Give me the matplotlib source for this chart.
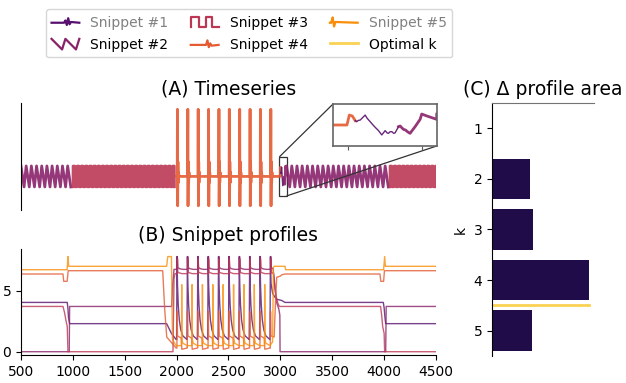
"""Snippet discovery figure: timeseries, snippet profiles and profile-area gain."""

import numpy as np
import matplotlib
matplotlib.use("Agg")
from matplotlib import pyplot as plt
from matplotlib.lines import Line2D
from matplotlib.legend_handler import HandlerBase
from mpl_toolkits.axes_grid1.inset_locator import mark_inset

# ---------------------------------------------------------------- data
# (A) timeseries: one cycle for each regime, repeated
saw_period = 50
saw_cycle_t = [0, 30]
saw_cycle_v = [1.0, -1.0]
square_period = 40
square_cycle_t = [0, 1, 19, 20]
square_cycle_v = [-1.0, 1.0, 1.0, -1.0]
spike_period = 100
spike_cycle_t = [0, 6, 8, 10, 13, 16, 19, 23]
spike_cycle_v = [0.0, 0.0, 6.4, -2.8, 1.4, -0.6, 0.4, 0.0]

# hand-read detail around the zoomed region (2990-3060)
tail4_t = [2990, 2999.4, 3001, 3003, 3005]
tail4_v = [0.0, 0.0, 0.88, 0.8, 0.38]
snippet1_t = [3005, 3006, 3007, 3008.4, 3009.5, 3011.7, 3013, 3015.1, 3017, 3018.5,
              3020.7, 3022.9, 3024, 3025.2, 3026.5, 3027.4, 3028.5, 3029.7, 3031,
              3031.9, 3034.2]
snippet1_v = [0.38, 0.29, 0.4, 0.44, 0.59, 0.88, 0.6, 0.29, 0.0, -0.21,
              -0.5, -0.88, -0.7, -0.5, -0.7, -0.74, -0.6, -0.59, -0.74,
              -0.7, -0.15]
head2_t = [3034.2, 3035.3, 3036.5, 3037.5, 3039, 3040.2, 3042, 3045.4, 3048.8,
           3049.9, 3053.3, 3060]
head2_v = [-0.15, -0.09, -0.25, -0.38, -0.45, -0.59, -0.74, -0.15, 0.5,
           0.97, 0.8, 0.5]

# (B) snippet profiles: lead-in, one cycle repeated over 2000-2900, tail
profile_lead_t = [
    [500, 946, 952, 958, 969, 1904, 1950, 1995],
    [500, 965, 969, 1952, 1962, 1975],
    [500, 905, 920, 935, 946, 953, 1965, 1975, 1985],
    [500, 905, 912, 945, 955, 1866, 1885, 1905, 1995],
    [500, 945, 953, 960, 1904, 1915, 1950, 1960, 1995],
]
profile_lead_v = [
    [4.04, 4.04, 3.6, 2.8, 2.3, 2.3, 1.5, 1.0],
    [0.0, 0.0, 3.71, 3.71, 5.5, 6.75],
    [3.71, 3.71, 3.2, 2.5, 2.07, 0.0, 0.0, 6.0, 6.4],
    [6.37, 6.37, 5.77, 5.77, 6.64, 6.64, 3.5, 1.2, 0.3],
    [6.72, 6.72, 7.8, 7.0, 7.0, 7.8, 7.8, 1.0, 0.5],
]
profile_cycle_t = [
    [0, 4, 9, 16, 26, 40, 60, 99],
    [0, 5, 7, 11, 30, 60, 99],
    [0, 6, 8, 12, 50, 99],
    [0, 3, 5, 9, 45, 50, 99],
    [0, 47, 49, 52, 60, 99],
]
profile_cycle_v = [
    [1.0, 7.8, 5.4, 3.8, 2.6, 1.8, 1.3, 1.0],
    [6.75, 6.75, 7.8, 6.9, 6.8, 6.75, 6.75],
    [6.4, 6.4, 7.6, 6.5, 6.4, 6.4],
    [0.3, 0.3, 3.3, 1.3, 1.1, 0.2, 0.3],
    [0.5, 0.5, 5.5, 1.0, 0.7, 0.5],
]
profile_tail_t = [
    [2900, 2904, 2910, 2925, 2945, 2965, 3013, 3045, 3992, 4000, 4008, 4015, 4500],
    [2900, 2905, 2907, 2911, 2930, 2950, 2965, 2985, 2995, 2997, 4015, 4020, 4500],
    [2900, 2906, 2908, 2912, 2935, 2950, 2960, 2975, 2990, 3966, 3976, 3986,
     4000, 4005, 4500],
    [2900, 2903, 2905, 2909, 2940, 2955, 2965, 3000, 3013, 3045, 3960, 3968,
     3995, 4003, 4500],
    [2900, 2925, 2933, 2940, 3045, 3050, 3995, 4005, 4012, 4500],
]
profile_tail_v = [
    [1.0, 7.8, 5.6, 4.8, 4.5, 4.3, 4.2, 4.04, 4.04, 3.6, 2.8, 2.3, 2.3],
    [6.75, 6.75, 7.8, 6.9, 6.8, 5.0, 4.0, 3.5, 3.0, 0.0, 0.0, 3.71, 3.71],
    [6.4, 6.4, 7.6, 6.5, 6.4, 5.2, 4.5, 4.0, 3.71, 3.71, 3.0, 2.07,
     1.5, 0.0, 0.0],
    [0.3, 0.3, 3.3, 1.3, 1.2, 4.5, 6.1, 6.2, 6.3, 6.37, 6.37, 5.77,
     5.77, 6.64, 6.64],
    [0.5, 0.8, 6.9, 7.0, 7.0, 6.72, 6.72, 7.8, 7.0, 7.0],
]
cycle_starts = [2000, 2100, 2200, 2300, 2400, 2500, 2600, 2700, 2800]

# (C) profile area gain per k
k_values = [1, 2, 3, 4, 5]
area_gain = [0.0, 0.39, 0.42, 1.0, 0.41]
optimal_k = 4

snippet_labels = ["Snippet #1", "Snippet #2", "Snippet #3", "Snippet #4", "Snippet #5"]
muted_snippets = [0, 4]

palette = plt.cm.inferno(np.linspace(0, 1, 9)[1:-1])
bar_color = palette[0]
snippet_colors = palette[1:6]
optimal_color = palette[6]

# legend glyphs (normalised shapes inside the handle box)
glyph_x = [
    [0, 0.45, 0.5, 0.55, 0.6, 0.65, 0.7, 1],
    [0, 0.38, 0.5, 0.88, 1],
    [0, 0, 0.3, 0.3, 0.55, 0.55, 0.75, 0.75, 1],
    [0, 0.55, 0.6, 0.65, 0.7, 0.75, 1],
    [0, 0.05, 0.1, 0.15, 0.2, 1],
]
glyph_y = [
    [0.45, 0.45, 0.6, 0.3, 0.75, 0.35, 0.5, 0.45],
    [0.85, 0.15, 0.85, 0.15, 0.85],
    [0.15, 0.85, 0.85, 0.15, 0.15, 0.85, 0.85, 0.15, 0.15],
    [0.45, 0.45, 0.75, 0.3, 0.55, 0.4, 0.45],
    [0.45, 0.45, 0.8, 0.2, 0.5, 0.45],
]


def tile(starts, cycle_t, cycle_v):
    xs = np.concatenate([np.asarray(cycle_t, float) + s for s in starts])
    ys = np.tile(np.asarray(cycle_v, float), len(starts))
    return xs, ys


class GlyphHandler(HandlerBase):
    def __init__(self, gx, gy):
        super().__init__()
        self.gx = np.asarray(gx, float)
        self.gy = np.asarray(gy, float)

    def create_artists(self, legend, orig_handle, xdescent, ydescent,
                       width, height, fontsize, trans):
        line = Line2D(self.gx * width - xdescent, self.gy * height - ydescent,
                      color=orig_handle.get_color(),
                      lw=orig_handle.get_linewidth())
        line.set_transform(trans)
        return [line]


# ---------------------------------------------------------------- series A
segments = []
x, y = tile(np.arange(500, 1000, saw_period), saw_cycle_t, saw_cycle_v)
segments.append((x, y, 1, 2.0))
x, y = tile(np.arange(1000, 2000, square_period), square_cycle_t, square_cycle_v)
segments.append((x, y, 2, 1.8))
x, y = tile(np.arange(2000, 3000, spike_period), spike_cycle_t, spike_cycle_v)
segments.append((np.r_[x, tail4_t], np.r_[y, tail4_v], 3, 2.0))
segments.append((np.asarray(snippet1_t), np.asarray(snippet1_v), 0, 1.0))
x, y = tile(np.arange(3060, 4055, saw_period), saw_cycle_t, saw_cycle_v)
segments.append((np.r_[head2_t, x], np.r_[head2_v, y], 1, 2.0))
x, y = tile(np.arange(4055, 4500, square_period), square_cycle_t, square_cycle_v)
segments.append((x, y, 2, 1.8))

plt.rcParams["font.size"] = 10
fig = plt.figure(figsize=(6.26, 3.83), dpi=100)

ax_a = fig.add_axes([0.0335, 0.4517, 0.663, 0.2794])
ax_b = fig.add_axes([0.0335, 0.0731, 0.663, 0.2768])
ax_c = fig.add_axes([0.786, 0.0705, 0.163, 0.6606])
ax_in = fig.add_axes([0.532, 0.6188, 0.1656, 0.1097])

for sx, sy, idx, lw in segments:
    ax_a.plot(sx, sy, color=snippet_colors[idx], lw=lw, alpha=0.9)
    ax_in.plot(sx, sy, color=snippet_colors[idx], lw=lw, alpha=0.9)

ax_a.set_xlim(500, 4500)
ax_a.set_ylim(-3.2, 7.0)
ax_a.set_xticks([])
ax_a.set_yticks([])
for side in ("top", "right", "bottom"):
    ax_a.spines[side].set_visible(False)
ax_a.set_title("(A) Timeseries", fontsize=13.5)

ax_in.set_xlim(2990, 3060)
ax_in.set_ylim(-1.86, 1.86)
ax_in.set_xticks([3000, 3050])
ax_in.set_xticklabels([])
ax_in.set_yticks([])
ax_in.tick_params(colors="0.35", length=3)
for sp in ax_in.spines.values():
    sp.set_color("0.4")
    sp.set_linewidth(1.2)
mark_inset(ax_a, ax_in, loc1=2, loc2=4, fc="none", ec="0.2", lw=0.9)

# ---------------------------------------------------------------- profiles B
for i in range(5):
    cx, cy = tile(cycle_starts, profile_cycle_t[i], profile_cycle_v[i])
    px = np.r_[profile_lead_t[i], cx, profile_tail_t[i]]
    py = np.r_[profile_lead_v[i], cy, profile_tail_v[i]]
    ax_b.plot(px, py, color=snippet_colors[i], lw=1.0, alpha=0.8)

ax_b.set_xlim(500, 4500)
ax_b.set_ylim(-0.27, 8.42)
ax_b.set_xticks([500, 1000, 1500, 2000, 2500, 3000, 3500, 4000, 4500])
ax_b.set_yticks([0, 5])
ax_b.spines["top"].set_visible(False)
ax_b.spines["right"].set_visible(False)
ax_b.set_title("(B) Snippet profiles", fontsize=13.5)

# ---------------------------------------------------------------- bars C
ax_c.barh(k_values, area_gain, height=0.8, color=bar_color)
ax_c.plot([0, area_gain[optimal_k - 1]], [optimal_k + 0.5, optimal_k + 0.5],
          color=optimal_color, lw=2, alpha=0.85)
ax_c.set_xlim(0, 1.05)
ax_c.set_ylim(5.5, 0.5)
ax_c.set_yticks(k_values)
ax_c.set_xticks([])
ax_c.set_ylabel("k")
ax_c.spines["right"].set_visible(False)
ax_c.spines["bottom"].set_visible(False)
ax_c.spines["top"].set_color("0.45")
ax_c.set_title("(C) Δ profile area", fontsize=13.5)

# ---------------------------------------------------------------- legend
handles = [Line2D([], [], color=c, lw=1.6) for c in snippet_colors]
handles.append(Line2D([], [], color=optimal_color, lw=2, alpha=0.85))
labels = snippet_labels + ["Optimal k"]
hmap = {h: GlyphHandler(gx, gy) for h, gx, gy in zip(handles[:5], glyph_x, glyph_y)}
leg = fig.legend(handles, labels, handler_map=hmap, ncol=3, loc="upper center",
                 bbox_to_anchor=(0.398, 0.995), fontsize=10, handleheight=1.3,
                 columnspacing=1.6)
for i in muted_snippets:
    leg.get_texts()[i].set_color("gray")

fig.savefig("out.png", dpi=100)
